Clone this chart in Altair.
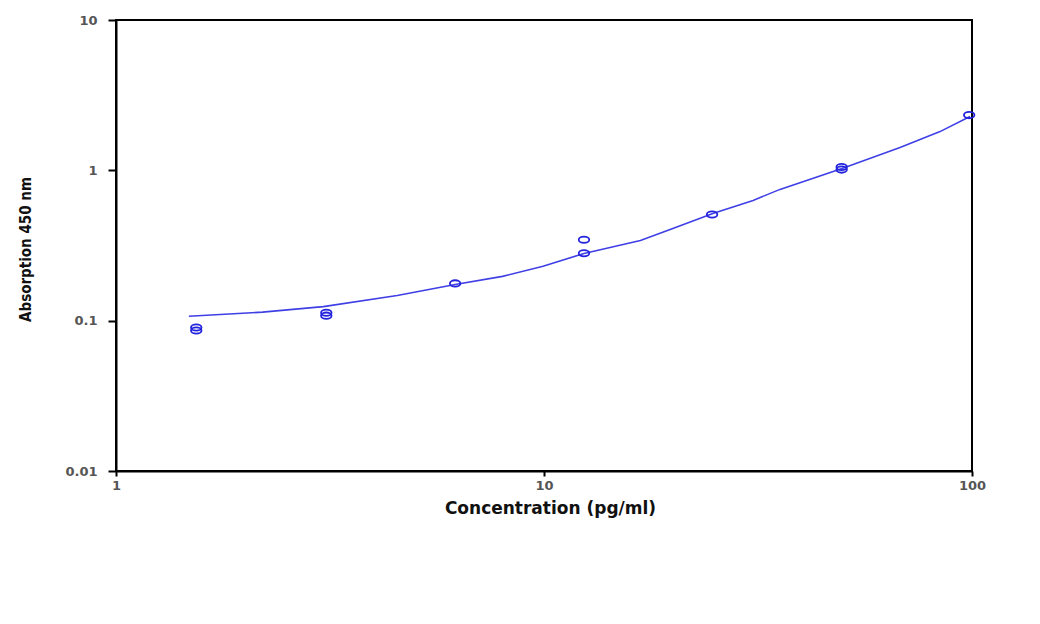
import altair as alt
import pandas as pd

# Measured standards (replicates)
pt_conc = [1.54, 1.54, 3.1, 3.1, 6.2, 12.4, 12.4, 24.7, 49.6, 49.6, 98.5]
pt_abs = [0.090, 0.086, 0.113, 0.108, 0.177, 0.345, 0.281, 0.509, 1.052, 1.011, 2.33]

# Fitted curve
fit_conc = [1.48, 2.2, 3.05, 4.54, 6.2, 8.0, 9.95, 12.4, 16.8, 20.0, 24.8, 30.8, 35.6, 49.7, 67.9, 84.2, 98.9]
fit_abs = [0.107, 0.114, 0.124, 0.147, 0.174, 0.197, 0.230, 0.280, 0.341, 0.411, 0.517, 0.631, 0.747, 1.03, 1.42, 1.81, 2.28]

x_ticks = [1, 10, 100]
y_ticks = [0.01, 0.1, 1, 10]

pts = pd.DataFrame({"conc": pt_conc, "abs": pt_abs})
fit = pd.DataFrame({"conc": fit_conc, "abs": fit_abs})

label_font = "DejaVu Sans"

x_enc = alt.X(
    "conc:Q",
    scale=alt.Scale(type="log", domain=[1, 100], nice=False),
    axis=alt.Axis(
        values=x_ticks, format="~g", grid=False,
        title="Concentration (pg/ml)",
        titleFont="DejaVu Sans", titleFontSize=17, titleFontWeight="bold", titleColor="#111",
        titleX=434, titleY=37, titleBaseline="middle", titleAlign="center",
        labelFont=label_font, labelFontSize=13, labelColor="#555", labelFontWeight="bold",
        labelPadding=3, tickSize=5, tickColor="#000", tickWidth=2,
        domainColor="#000", domainWidth=2, labelFlush=False,
    ),
)
y_enc = alt.Y(
    "abs:Q",
    scale=alt.Scale(type="log", domain=[0.01, 10], nice=False),
    axis=alt.Axis(
        values=y_ticks, format="~g", grid=False,
        title="Absorption 450 nm",
        titleFont="DejaVu Sans Condensed, Liberation Sans Narrow, sans-serif",
        titleFontSize=15, titleFontWeight="bold", titleColor="#111",
        titleAngle=-90, titleX=-91, titleY=229, titleAlign="center", titleBaseline="middle",
        labelFont=label_font, labelFontSize=13, labelColor="#555", labelFontWeight="bold",
        labelPadding=11, tickSize=8, tickColor="#000", tickWidth=2,
        domainColor="#000", domainWidth=2, labelFlush=False,
    ),
)

line = alt.Chart(fit).mark_line(color="#3f3fe6", strokeWidth=1.6).encode(
    x=x_enc, y=y_enc
)

ellipse = "M -1 0 A 1 0.6 0 1 0 1 0 A 1 0.6 0 1 0 -1 0 Z"
points = alt.Chart(pts).mark_point(
    shape=ellipse, size=110, filled=False, color="#2323dd", strokeWidth=1.8, opacity=1
).encode(x=x_enc, y=y_enc)

chart = (
    alt.layer(line, points)
    .properties(
        width=856, height=451,
        autosize=alt.AutoSizeParams(type="none"),
        padding={"left": 108, "top": 12, "right": 40, "bottom": 120},
        background="white",
    )
    .configure_view(stroke="#000", strokeWidth=2)
)

chart.save("out.html", embed_options={"renderer": "svg", "actions": False})
